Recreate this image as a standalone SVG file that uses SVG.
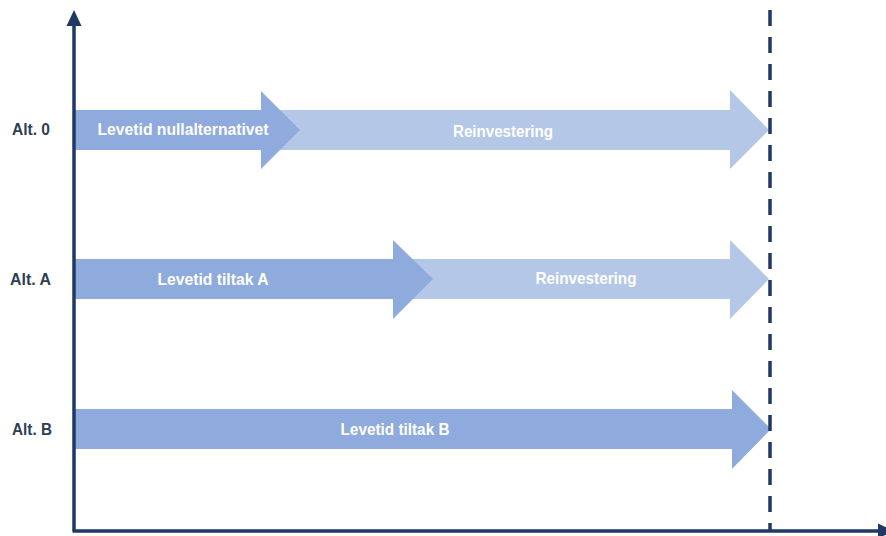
<svg xmlns="http://www.w3.org/2000/svg" width="886" height="536" viewBox="0 0 886 536">
<defs>
<style>
.dark{fill:#8FAADC}
.light{fill:#B4C7E7}
.axis{stroke:#203864;stroke-width:3.5;fill:none}
.head{fill:#203864}
.lbl{font-family:"Liberation Sans",Arial,sans-serif;font-weight:bold;font-size:16px;fill:#2F3E55}
.in{font-family:"Liberation Sans",Arial,sans-serif;font-weight:bold;font-size:16px;fill:#FFFFFF;text-anchor:middle}
</style>
</defs>
<rect width="886" height="536" fill="#FFFFFF"/>
<g id="alt0">
<polygon class="light" points="75,110 730,110 730,90 769,130 730,169 730,150 75,150"/>
<polygon class="dark" points="75,110 261,110 261,91 300,130 261,169 261,150 75,150"/>
<text class="in" x="183" y="135" textLength="171" lengthAdjust="spacingAndGlyphs">Levetid nullalternativet</text>
<text class="in" x="503" y="137" textLength="100" lengthAdjust="spacingAndGlyphs">Reinvestering</text>
<text class="lbl" x="12" y="135" textLength="38" lengthAdjust="spacingAndGlyphs">Alt. 0</text>
</g>
<g id="altA">
<polygon class="light" points="75,259 730,259 730,240 769,279 730,319 730,299 75,299"/>
<polygon class="dark" points="75,259 393,259 393,240 433,279 393,319 393,299 75,299"/>
<text class="in" x="213" y="285" textLength="111" lengthAdjust="spacingAndGlyphs">Levetid tiltak A</text>
<text class="in" x="586" y="284" textLength="101" lengthAdjust="spacingAndGlyphs">Reinvestering</text>
<text class="lbl" x="10" y="285" textLength="41" lengthAdjust="spacingAndGlyphs">Alt. A</text>
</g>
<g id="altB">
<polygon class="dark" points="75,409 732,409 732,390 771,429 732,469 732,449 75,449"/>
<text class="in" x="395" y="435" textLength="109" lengthAdjust="spacingAndGlyphs">Levetid tiltak B</text>
<text class="lbl" x="12" y="435" textLength="40" lengthAdjust="spacingAndGlyphs">Alt. B</text>
</g>
<g id="connectors">
<line class="axis" x1="74" y1="531" x2="74" y2="22"/>
<polygon class="head" points="74,10 81.5,26 66.5,26"/>
<line class="axis" x1="72.5" y1="531" x2="882" y2="531"/>
<polygon class="head" points="894,531 878,523.5 878,538.5"/>
<line class="axis" x1="770" y1="10" x2="770" y2="531" stroke-dasharray="16 11"/>
</g>
</svg>
